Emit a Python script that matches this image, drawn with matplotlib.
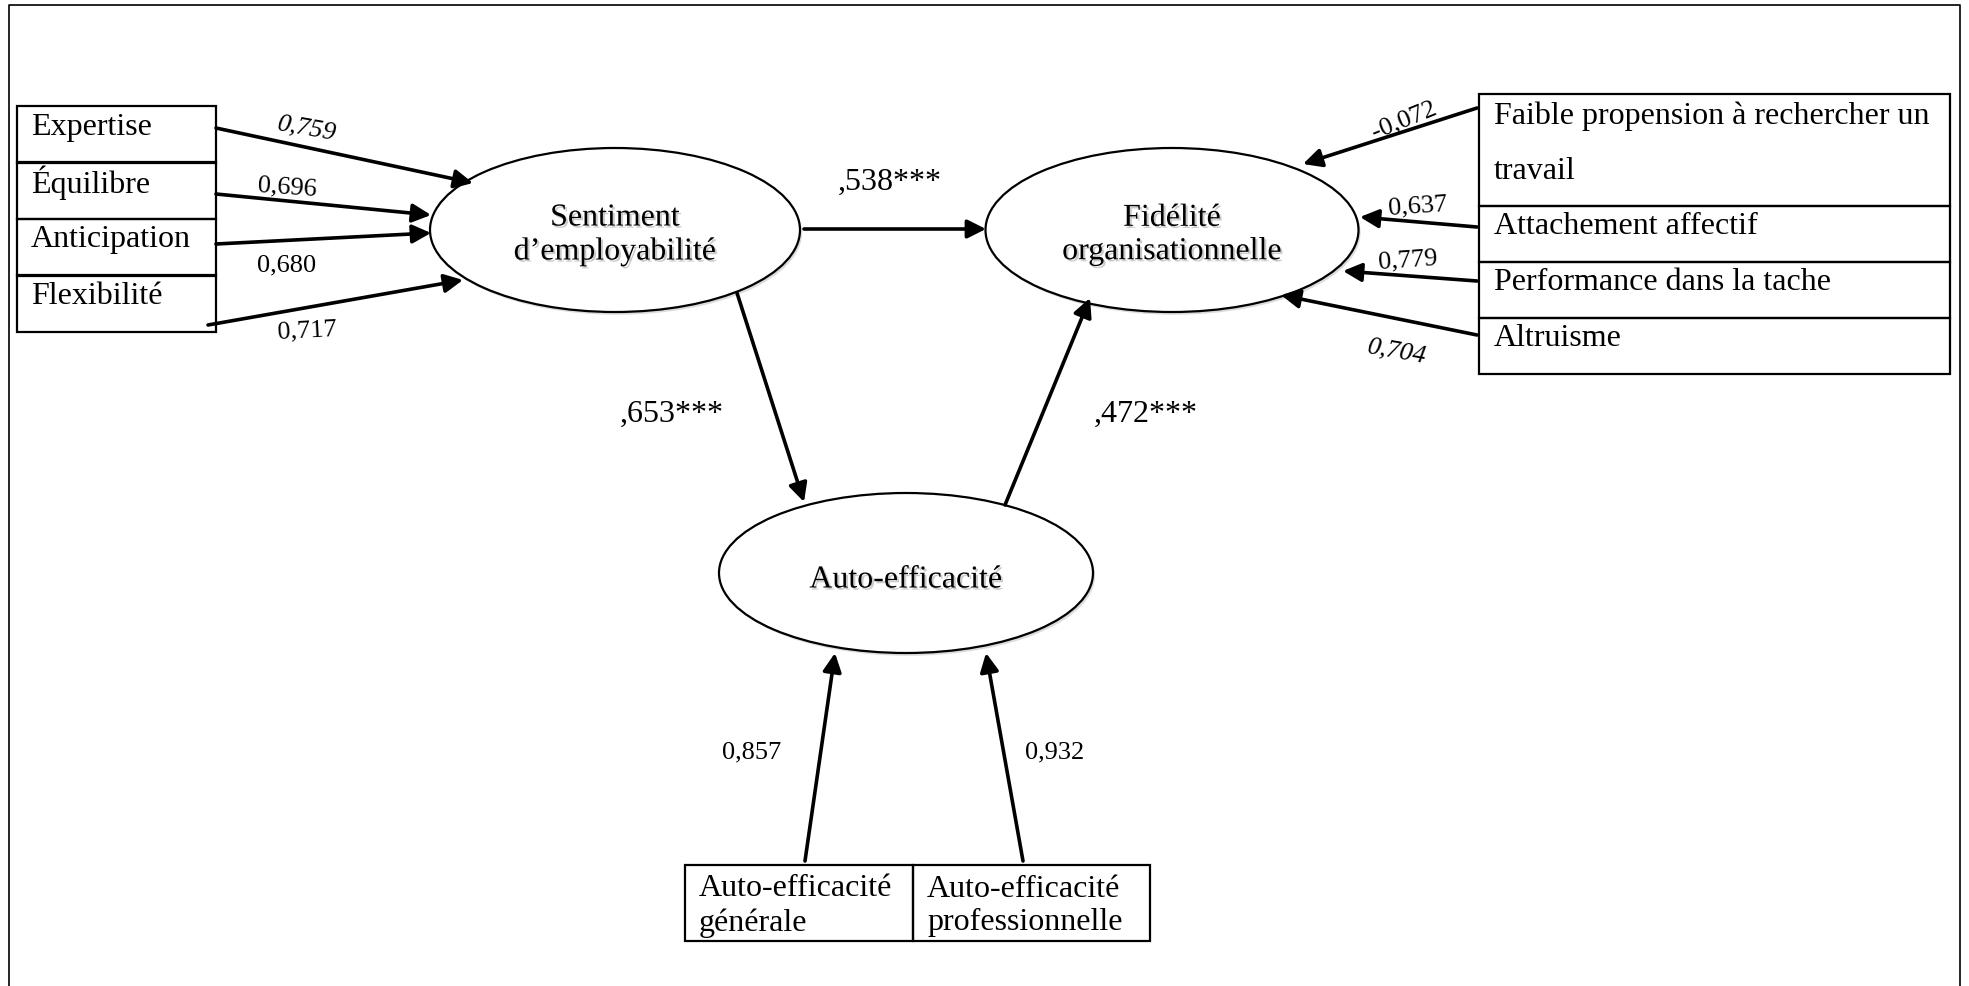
import matplotlib.pyplot as plt
from matplotlib.patches import Ellipse, Rectangle
import matplotlib.patheffects as pe

# latent variables and indicators
latent_names = ["Sentiment\nd\u2019employabilit\u00e9", "Fid\u00e9lit\u00e9\norganisationnelle", "Auto-efficacit\u00e9"]
left_items = ["Expertise", "\u00c9quilibre", "Anticipation", "Flexibilit\u00e9"]
right_items = ["Faible propension \u00e0 rechercher un\ntravail", "Attachement affectif",
               "Performance dans la tache", "Altruisme"]
bottom_items = ["Auto-efficacit\u00e9\ng\u00e9n\u00e9rale", "Auto-efficacit\u00e9\nprofessionnelle"]

# coefficients
left_loadings = [0.759, 0.696, 0.680, 0.717]
right_loadings = [-0.072, 0.637, 0.779, 0.704]
bottom_loadings = [0.857, 0.932]
path_coefs = [0.538, 0.653, 0.472]   # SE->FO, SE->AE, AE->FO


def fr(v):
    # french decimal comma
    return "{:.3f}".format(v).replace(".", ",")


def fr_path(v):
    return fr(v).replace("0,", ",", 1) + "***"


FONT = "Liberation Serif"
fs_box = 23
fs_num = 19
fs_path = 23
shadow = [pe.withSimplePatchShadow(offset=(1.5, -1.5), shadow_rgbFace="#999999", alpha=0.5)]

fig = plt.figure(figsize=(19.69, 9.87), dpi=100)
ax = fig.add_axes([0, 0, 1, 1])
ax.set_xlim(0, 1969)
ax.set_ylim(987, 0)
ax.axis("off")

# outer frame (bottom edge is cut off)
ax.plot([9, 9, 1960, 1960], [987, 6, 6, 987], color="black", lw=1.2)


def arrow(x0, y0, x1, y1):
    ax.annotate("", xy=(x1, y1), xytext=(x0, y0),
                arrowprops=dict(arrowstyle="-|>", lw=2.6, color="black",
                                mutation_scale=28, shrinkA=0, shrinkB=0))


# ellipses
ell = [(615, 231, 370, 164), (1172, 231, 373, 164), (906, 574, 374, 160)]
txt_y = [236, 236, 581]
for (cx, cy, w, h), ty, name in zip(ell, txt_y, latent_names):
    e = Ellipse((cx, cy), w, h, facecolor="white", edgecolor="black", lw=1.6,
                path_effects=[pe.withSimplePatchShadow(offset=(1.5, -2), shadow_rgbFace="#bbbbbb", alpha=0.5)])
    ax.add_patch(e)
    ax.text(cx, ty, name, ha="center", va="center", fontsize=fs_box, family=FONT,
            linespacing=1.2, path_effects=shadow)

# left boxes
row_top = [107, 163, 220, 276]
row_h = 57
for i, (t, lbl) in enumerate(zip(row_top, left_items)):
    ax.add_patch(Rectangle((17, t), 199, row_h, facecolor="none", edgecolor="black", lw=1.6))
    ax.text(31, t + 20, lbl, ha="left", va="center", fontsize=fs_box, family=FONT)

# right boxes
r_tops = [95, 207, 263, 319]
r_bots = [207, 263, 319, 375]
for t, b, lbl in zip(r_tops, r_bots, right_items):
    ax.add_patch(Rectangle((1479, t), 471, b - t, facecolor="none", edgecolor="black", lw=1.6))
    if "\n" in lbl:
        ax.text(1494, t + 49, lbl, ha="left", va="center", fontsize=fs_box, family=FONT, linespacing=2.2)
    else:
        ax.text(1494, t + 20, lbl, ha="left", va="center", fontsize=fs_box, family=FONT)

# bottom boxes
ax.add_patch(Rectangle((685, 866), 228, 76, facecolor="none", edgecolor="black", lw=1.6))
ax.add_patch(Rectangle((913, 866), 237, 76, facecolor="none", edgecolor="black", lw=1.6))
for x, lbl in zip([699, 927], bottom_items):
    ax.text(x, 906, lbl, ha="left", va="center", fontsize=fs_box, family=FONT, linespacing=1.2)

# left arrows + loadings
l_arrows = [(216, 129, 473, 184), (216, 195, 431, 216), (216, 245, 431, 234), (208, 326, 463, 281)]
l_lab = [(307, 129, -10, "italic"), (287, 188, -4, "normal"), (287, 265, 0, "normal"), (307, 331, 3, "normal")]
for (x0, y0, x1, y1), (lx, ly, rot, st), v in zip(l_arrows, l_lab, left_loadings):
    arrow(x0, y0, x1, y1)
    ax.text(lx, ly, fr(v), ha="center", va="center", fontsize=fs_num, family=FONT,
            rotation=rot, style=st)

# right arrows + loadings
r_arrows = [(1477, 109, 1303, 165), (1477, 228, 1360, 218), (1477, 282, 1343, 272), (1477, 336, 1281, 296)]
r_lab = [(1404, 120, 22, "normal"), (1418, 206, 4, "normal"), (1408, 260, 4, "normal"), (1397, 352, -10, "italic")]
for (x0, y0, x1, y1), (lx, ly, rot, st), v in zip(r_arrows, r_lab, right_loadings):
    arrow(x0, y0, x1, y1)
    ax.text(lx, ly, fr(v), ha="center", va="center", fontsize=fs_num, family=FONT,
            rotation=rot, style=st)

# bottom arrows + loadings
b_arrows = [(805, 862, 835, 654), (1023, 862, 986, 654)]
b_lab = [(752, 752), (1055, 752)]
for (x0, y0, x1, y1), (lx, ly), v in zip(b_arrows, b_lab, bottom_loadings):
    arrow(x0, y0, x1, y1)
    ax.text(lx, ly, fr(v), ha="center", va="center", fontsize=fs_num, family=FONT)

# structural paths
p_arrows = [(804, 230, 986, 230), (737, 294, 804, 503), (1005, 506, 1090, 299)]
p_lab = [(890, 182), (672, 414), (1146, 414)]
for (x0, y0, x1, y1), (lx, ly), v in zip(p_arrows, p_lab, path_coefs):
    arrow(x0, y0, x1, y1)
    ax.text(lx, ly, fr_path(v), ha="center", va="center", fontsize=fs_path, family=FONT)

fig.savefig("out.png", dpi=100, facecolor="white")
